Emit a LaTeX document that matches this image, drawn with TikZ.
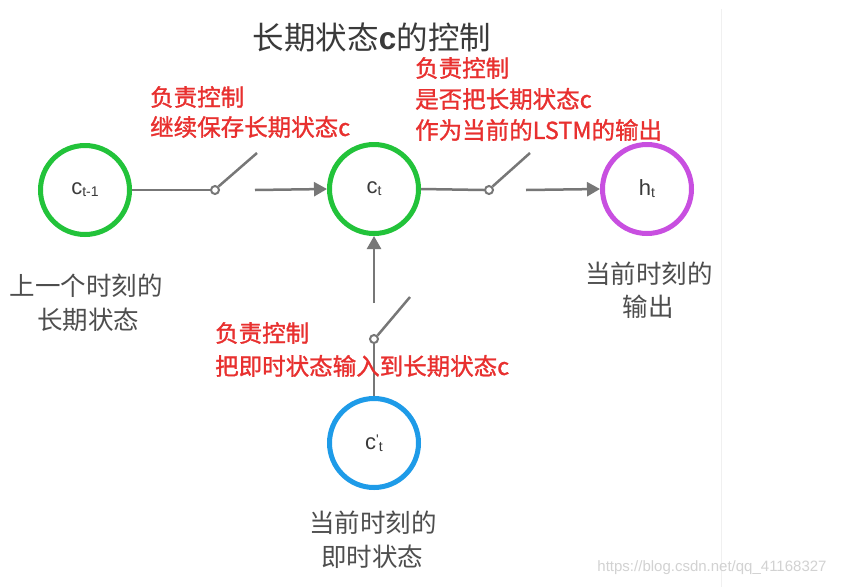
\documentclass[tikz,border=0pt]{standalone}
\usepackage{fontspec}
\setmainfont{Liberation Sans}
\newfontfamily\cjk{Noto Sans CJK SC}
\newfontfamily\cjkred[FakeBold=1.2]{Noto Sans CJK SC}
\usetikzlibrary{arrows.meta}
\definecolor{wiregray}{HTML}{777777}
\definecolor{txtgray}{HTML}{3A3A3A}
\definecolor{redc}{HTML}{E8302F}
\definecolor{greenc}{HTML}{22C33A}
\definecolor{purplec}{HTML}{C84FE0}
\definecolor{bluec}{HTML}{1E9BE8}
\begin{document}
\begin{tikzpicture}[x=1pt,y=-1pt,
  state/.style={circle, line width=5pt, minimum size=89pt, inner sep=0pt, text=txtgray},
  wire/.style={draw=wiregray, line width=2.5pt},
  arr/.style={wire, -{Triangle[length=13pt,width=14pt]}},
  swc/.style={circle, draw=wiregray, line width=2pt, fill=white, minimum size=8pt, inner sep=0pt},
  redtxt/.style={text=redc, font=\cjkred\fontsize{23.5}{28}\selectfont, anchor=west, inner sep=0pt},
  graytxt/.style={text=txtgray!90, font=\cjk\fontsize{25.5}{30}\selectfont, inner sep=0pt}
]
\useasboundingbox (0,0) rectangle (843,587);
\fill[white] (0,0) rectangle (843,587);
\draw[gray!12, line width=1pt] (721,9) -- (721,587);

% title
\node[text=txtgray, inner sep=0pt, font=\cjk\fontsize{31.5}{36}\selectfont] (title) at (372,38)
  {长期状态{\fontspec{Liberation Sans Bold}c}的控制};

% state circles
\node[state, draw=greenc] (cprev) at (85,190)
  {\fontsize{22}{22}\selectfont c\raisebox{-2pt}{\fontsize{14}{14}\selectfont t-1}};
\node[state, draw=greenc] (ct) at (374,189)
  {\fontsize{22}{22}\selectfont c\raisebox{-2pt}{\fontsize{14}{14}\selectfont t}};
\node[state, draw=purplec] (ht) at (647,189)
  {\fontsize{22}{22}\selectfont h\raisebox{-2pt}{\fontsize{14}{14}\selectfont t}};
\node[state, draw=bluec] (cpt) at (374,443)
  {\fontsize{22}{22}\selectfont c\raisebox{5pt}{\fontsize{14}{14}\selectfont\textquotesingle}\raisebox{-2pt}{\fontsize{14}{14}\selectfont t}};

% switches
\node[swc] (sw1) at (215,190) {};
\node[swc] (sw2) at (489,190) {};
\node[swc] (sw3) at (374,339) {};
\coordinate (lev1) at (257,153);
\coordinate (lev2) at (530,153);
\coordinate (lev3) at (410,297);
\coordinate (a1) at (255,190);
\coordinate (a2) at (526,190);
\coordinate (a3) at (374,303);

\draw[wire] (cprev.east) -- (sw1.west);
\draw[wire] (sw1.north east) -- (lev1);
\draw[arr] (a1) -- (ct.west);

\draw[wire] (ct.east) -- (sw2.west);
\draw[wire] (sw2.north east) -- (lev2);
\draw[arr] (a2) -- (ht.west);

\draw[wire] (cpt.north) -- (sw3.south);
\draw[wire] (sw3.north east) -- (lev3);
\draw[arr] (a3) -- (ct.south);

% red annotations
\node[redtxt] (r1a) at (150,97) {负责控制};
\node[redtxt] (r1b) at (150,127) {继续保存长期状态c};
\node[redtxt] (r2a) at (415,68) {负责控制};
\node[redtxt] (r2b) at (415,99) {是否把长期状态c};
\node[redtxt] (r2c) at (415,130) {作为当前的LSTM的输出};
\node[redtxt] (r3a) at (215,333) {负责控制};
\node[redtxt] (r3b) at (215,366) {把即时状态输入到长期状态c};

% gray captions
\node[graytxt] (g1a) at (86,286) {上一个时刻的};
\node[graytxt] (g1b) at (88,320) {长期状态};
\node[graytxt] (g2a) at (649,274) {当前时刻的};
\node[graytxt] (g2b) at (648,307) {输出};
\node[graytxt] (g3a) at (373,523) {当前时刻的};
\node[graytxt] (g3b) at (372,557) {即时状态};

% watermark
\node[text=gray!35, inner sep=0pt, font=\fontsize{15}{15}\selectfont] (wm) at (712,568)
  {https://blog.csdn.net/qq\_41168327};
\end{tikzpicture}
\end{document}
